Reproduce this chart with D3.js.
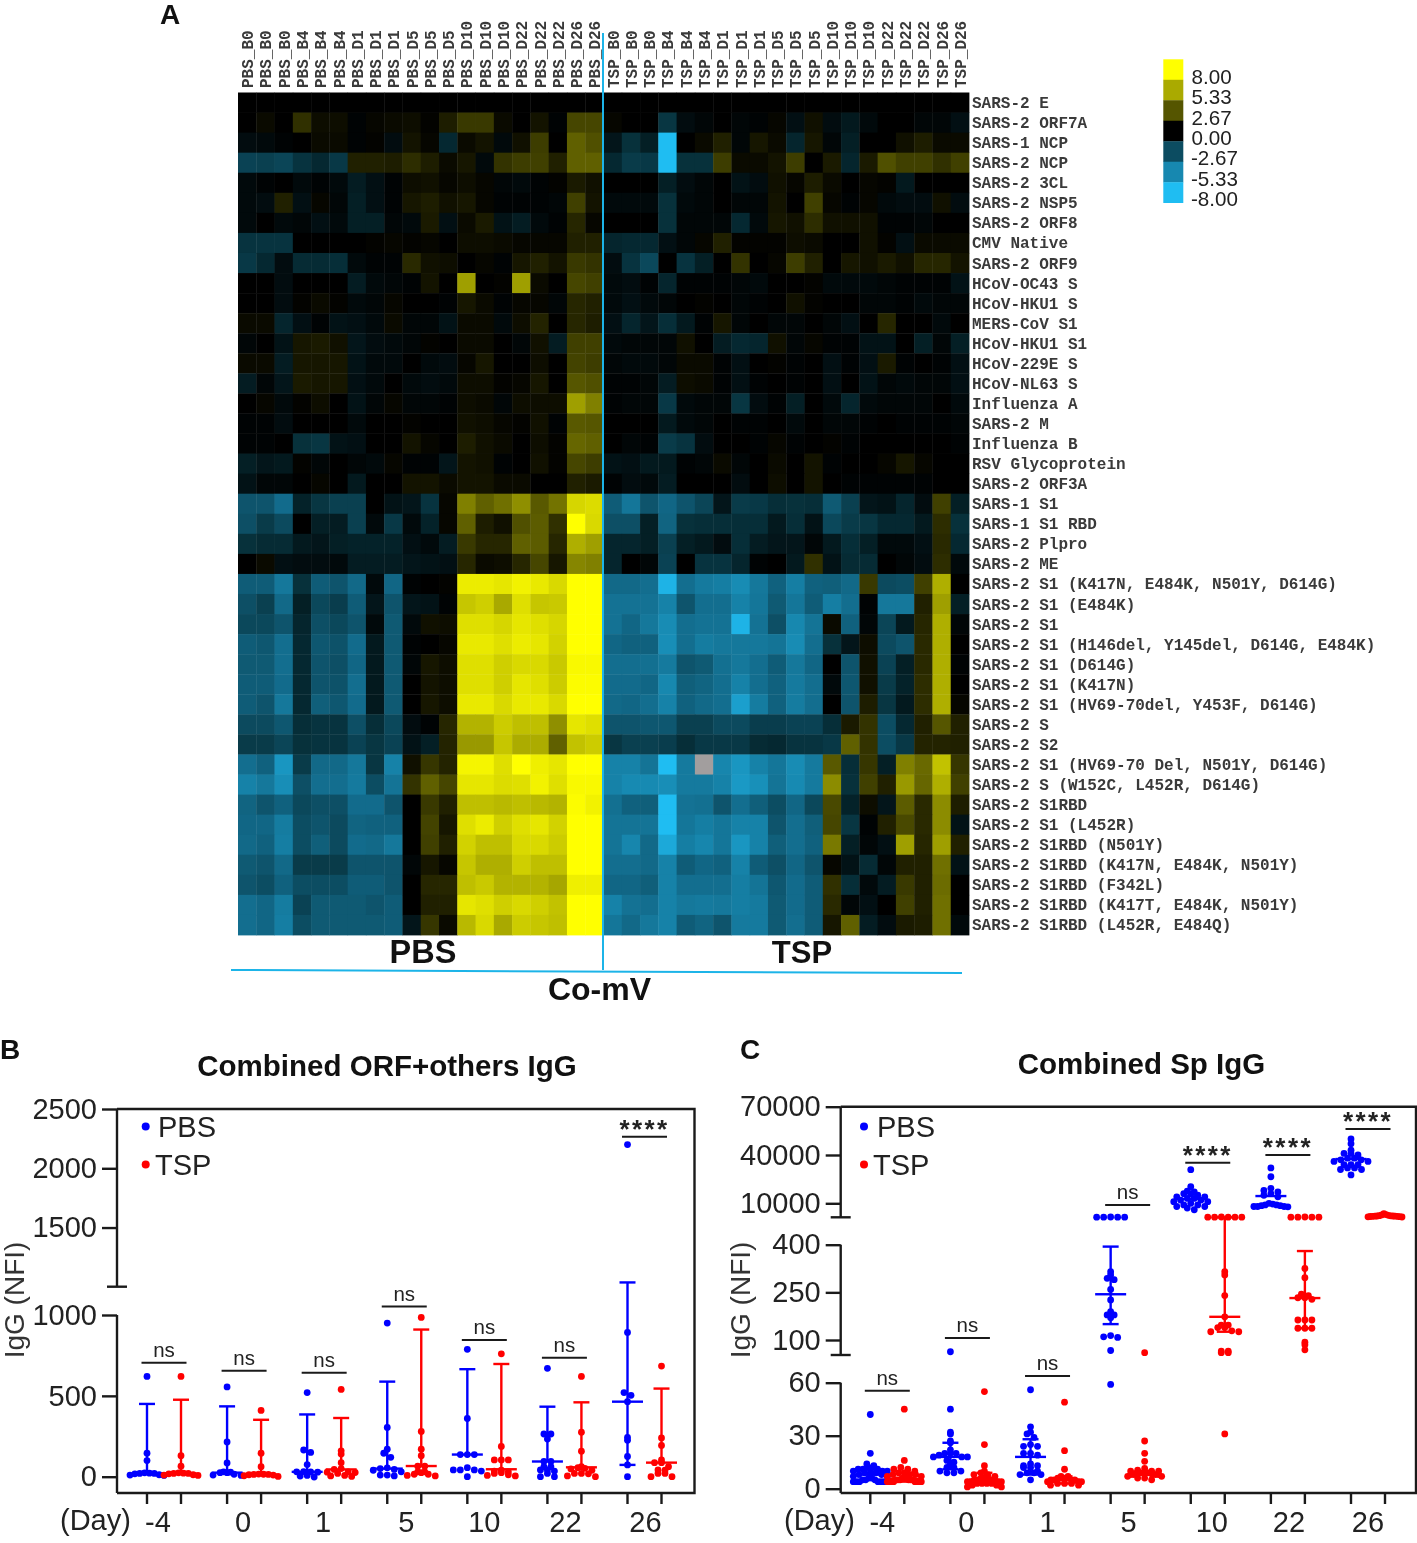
<!DOCTYPE html>
<html><head><meta charset="utf-8">
<script src="https://cdn.jsdelivr.net/npm/d3@7"></script>
<style>html,body{margin:0;padding:0;background:#fff}svg{display:block;filter:blur(.45px)}text{fill:#222}</style>
</head><body><svg id="fig" width="1417" height="1543"></svg>
<script>
const heatRowLabels=["SARS-2 E","SARS-2 ORF7A","SARS-1 NCP","SARS-2 NCP","SARS-2 3CL","SARS-2 NSP5","SARS-2 ORF8","CMV Native","SARS-2 ORF9","HCoV-OC43 S","HCoV-HKU1 S","MERS-CoV S1","HCoV-HKU1 S1","HCoV-229E S","HCoV-NL63 S","Influenza A","SARS-2 M","Influenza B","RSV Glycoprotein","SARS-2 ORF3A","SARS-1 S1","SARS-1 S1 RBD","SARS-2 Plpro","SARS-2 ME","SARS-2 S1 (K417N, E484K, N501Y, D614G)","SARS-2 S1 (E484K)","SARS-2 S1","SARS-2 S1 (H146del, Y145del, D614G, E484K)","SARS-2 S1 (D614G)","SARS-2 S1 (K417N)","SARS-2 S1 (HV69-70del, Y453F, D614G)","SARS-2 S","SARS-2 S2","SARS-2 S1 (HV69-70 Del, N501Y, D614G)","SARS-2 S (W152C, L452R, D614G)","SARS-2 S1RBD","SARS-2 S1 (L452R)","SARS-2 S1RBD (N501Y)","SARS-2 S1RBD (K417N, E484K, N501Y)","SARS-2 S1RBD (F342L)","SARS-2 S1RBD (K417T, E484K, N501Y)","SARS-2 S1RBD (L452R, E484Q)"];
const heatTimes=["B0","B0","B0","B4","B4","B4","D1","D1","D1","D5","D5","D5","D10","D10","D10","D22","D22","D22","D26","D26"];
const heatPbs=[
[0,0,0,0,0,0,0,0,0,0,0,0,0,0,0,0,0,0,0,0],
[0,.3,0,1.5,.4,.4,-.1,.2,.3,.4,.1,.9,1.8,1.8,.3,0,.6,-.1,2.2,2.2],
[-.4,-.3,-.1,0,.3,.3,-.1,.1,-.4,.6,.2,-1.3,.3,.6,-.3,.5,1.9,0,3,2.5],
[-2.3,-2.2,-2.4,-1.7,-1.3,-1.9,1,1,.9,1.4,.9,.3,.7,-.3,1.6,1.9,2,1,3,3],
[-.3,-.1,0,-.3,-.1,-.3,-.9,-.5,-.1,.4,.5,.2,.4,.2,-.2,-.3,-.1,.1,.8,.5],
[-.3,-.4,1,-.5,.2,-.2,-1,-.5,-.1,.7,.9,.5,.7,.2,-.1,-.1,-.1,-.2,2,.6],
[-.3,0,-.3,-.2,-.5,-.3,-1,-1,-.2,-.3,.8,-.5,.3,.8,-.6,-.9,-.3,-.1,1.2,.2],
[-1.7,-1.7,-1.7,0,0,0,0,.1,.2,.1,.2,0,.4,.4,.3,.2,.2,.2,1,1],
[-1.9,-1.3,-.4,-1.4,-1.4,-1.5,-.3,-.1,-.1,1.3,.5,.4,0,.2,-.1,.7,1,.6,1.8,1.6],
[0,0,-.4,0,0,0,-.9,-.3,-.2,-.1,.6,0,5,0,.1,5,.3,0,2.2,2],
[0,0,-.4,.1,.3,.1,-.3,-.2,.2,0,0,-.1,.7,.3,-.1,.2,.2,-.2,1.2,1],
[.3,.3,-1.2,-.5,-.1,-.6,-.5,-.3,.3,-.2,-.2,-.6,.3,.3,-.3,.4,1.1,0,1.2,.9],
[-.2,0,-.6,.7,.8,.5,-.7,-.4,-.3,-.2,.1,0,.3,.3,0,-.2,.5,-.9,2,2],
[.3,.3,-.9,.7,.7,.7,-.6,-.3,-.3,0,-.3,-.4,.2,.7,0,0,.4,0,2.1,1.9],
[-.9,-.2,-.7,.8,.7,.7,-.5,-.3,0,-.3,-.4,-.3,.4,.4,.1,.2,.7,0,2.7,2.5],
[0,.2,-.3,.1,.4,0,-.6,-.2,.2,-.2,-.2,-.1,.4,.3,-.2,.4,.4,.4,5,4],
[-.1,-.1,-.4,0,0,0,-.3,0,0,.1,0,0,.5,.4,.2,.1,.5,-.1,2.8,2.7],
[-.1,-.1,0,-1.6,-1.8,-.6,-.5,0,0,.6,.2,0,.9,.5,.3,0,.4,.1,3.2,3],
[-1,-.7,-.8,.1,-.2,0,-.2,-.3,.2,-.1,-.1,-.7,.6,.5,-.1,0,.5,.1,2.2,1.9],
[-.6,-.2,-.2,0,.2,0,-.8,0,0,.6,.6,.3,.6,.6,.3,.3,0,0,1,.8],
[-3,-3,-3.9,-1.1,-1.8,-2.2,-2.2,0,-.6,-.7,-1.7,.2,4,3,3.5,4.5,2.8,3.6,6.7,6.9],
[-2.8,-2,-2.6,0,-1,-.9,-2.2,-.3,-1.9,-.3,-1.1,.2,3,.9,.5,2.5,2.9,1.5,8,6.8],
[-1.6,-1.4,-1.4,-.8,-.7,-1,-1.1,-1.1,-1.1,-.5,-.3,-.9,1.8,1.2,1.2,3,2.9,1.2,5.5,5],
[0,.3,-.5,-.4,-.4,-.3,-.9,-.9,-.9,-.7,-.6,-.5,1.2,.3,.4,1.2,2.2,.7,4.2,4],
[-3.3,-3.3,-4.5,-1.6,-3.3,-3,-3.8,-.3,-3.7,-.1,0,.1,7.4,7.4,7.2,7.6,7.3,6.8,8,8],
[-2.8,-2.2,-3.8,-1,-2.5,-2.1,-3.3,-.7,-3,-.7,-.6,-.1,6.2,6.5,5.3,7,6.2,6.3,8,8],
[-2.5,-2.5,-3,-1.2,-2.8,-2.5,-3,-.3,-3.2,-.3,.5,.4,7,7,6.7,7.2,7,6.7,8,8],
[-3.3,-3.1,-4,-1.3,-3.1,-2.9,-3.9,-.8,-3.2,-.1,0,.2,7.3,7.3,7,7.4,7.2,6.6,8,8],
[-3.2,-3.2,-4,-1.3,-3,-2.8,-3.7,-.8,-3.2,-.2,.7,.4,7,7,6.5,6.8,6.8,6.3,7.8,7.8],
[-3.3,-3.3,-3.9,-1.3,-3,-2.9,-4,-.8,-3.2,0,.6,.4,7,7,6.5,7.2,7,6.4,7.9,7.9],
[-3.3,-3,-4.5,-1.3,-3.4,-3.1,-3.9,-.8,-3.2,0,.7,.4,7.3,7.3,6.8,7.3,7.3,6.8,8,8],
[-2.6,-2.6,-3.1,-1.5,-1.7,-1.7,-2.8,-1.5,-2.5,-.4,-.1,1.2,5.6,5.6,6.4,6,6,4.5,7.2,7],
[-2,-2,-2.4,-1.6,-1.7,-1.7,-2.3,-1.8,-2.3,-.6,-1,1.1,4.8,4.8,6.2,5.4,5.4,3,6.1,6.4],
[-4,-3.5,-6,-2,-3.8,-3.8,-4.5,-1.8,-5,.5,1.7,1.1,7.7,7.7,7,8,7.5,7.2,8,8],
[-5,-4.5,-5.6,-2.8,-4,-4,-4.6,-2.7,-4.3,1.6,3,2.2,7.2,7.2,6.9,7,7.6,7,7.8,7.8],
[-3.6,-3,-3.5,-2.5,-2.8,-2.8,-3.9,-3.9,-3,0,1.8,1,6,6,5.8,6,5.8,5.6,7.9,7.6],
[-3.7,-3.7,-4.7,-2.7,-3,-2.6,-3.6,-3.5,-3.5,0,2.1,.7,7,7.4,6.5,7,7.2,6.6,8,8],
[-3.8,-3.5,-4.8,-2.7,-3.4,-2.6,-3.9,-3.8,-4.5,0,2,1,6.6,6,6,6.8,6.8,6.4,8,8],
[-3.2,-3,-3.8,-2,-2,-2,-3,-3,-3,-.2,.7,.2,6.2,5.5,5.5,6.5,6,6,8,8],
[-3,-2.7,-3.5,-2.7,-2.7,-2.7,-3.3,-3.3,-3,0,1.2,1.2,6,6.3,5.6,5.6,5.6,5.2,7.5,7.5],
[-4,-3.7,-4.7,-2.3,-3.2,-3.2,-3.2,-3,-3.3,0,1,1,7.2,7,6.5,6.8,6.5,6.1,8,8],
[-4,-3.7,-4.8,-2.7,-3.2,-3.2,-3.2,-3.2,-3.3,-.7,1.7,.3,5.8,6.8,5.3,6.4,6.2,6,8,8]];
const heatTsp=[
[0,0,0,0,0,0,0,0,0,0,0,0,0,0,0,0,0,0,0,0],
[.2,0,0,-1.8,-.4,-.2,0,-.2,-.1,.2,-.5,.5,-.4,-.8,-.3,0,0,-.2,-.2,-.5],
[-.7,-1.6,-1,-8,0,.3,1,-.2,.7,.3,-1.2,.7,-.2,-1,0,0,.5,.9,.3,.3],
[-1.3,-2,-1.9,-8,-1.6,-1.6,1.9,.3,.3,.6,1.9,0,.8,-1.2,.8,2.5,2,2,1.5,2],
[0,0,0,-1,-.4,-.2,0,-.6,-.4,.5,.2,.9,.3,0,.2,.1,-.8,0,0,0],
[-.3,-.3,-.3,-1.6,-.3,-.2,0,-.2,-.2,.6,0,2,.2,-.1,.2,-.3,-.4,-.4,.5,-.4],
[0,0,0,-1.6,-.2,-.2,-.2,-1.3,-.3,.7,.5,1.4,.5,.5,.5,-.1,-.1,-.2,0,0],
[-1.2,-1.3,-1.3,-.5,-.2,.2,1,.1,.1,.1,.4,.3,0,0,.5,.1,-.5,.3,.3,.3],
[-.4,-1.7,-2.5,0,-1.7,-1,0,1.6,0,.2,1.9,1,0,.7,.5,.8,.5,1.2,1.2,.6],
[-.3,-.4,-.1,-1.2,-.1,-.1,-.1,-.2,-.3,0,0,.1,-.3,-.3,-.3,-.2,-.1,-.1,-.1,-.6],
[-.3,-.5,-.3,-.2,0,.1,0,-.2,-.1,0,.5,.1,0,0,-.2,-.2,-.1,-.3,-.2,-.2],
[-.5,-1.2,-.7,-1.5,-.8,-.1,.7,-.2,0,-.2,-.2,0,-.2,-.5,0,1.2,0,0,-.3,0],
[-.3,-.2,-.2,-.2,.5,0,-.9,-1.3,-1.2,.5,-.2,.2,-.1,-.1,-.6,-.6,0,-1,-.2,-1],
[-.2,-.3,-.3,-.2,.3,.3,-.1,-.5,0,.1,-.1,0,-.5,-.1,-.5,.8,-.1,0,-.1,-.5],
[-.1,-.1,-.2,-.9,.4,.3,-.1,-.5,-.1,0,-.1,0,-.5,0,-.6,-.2,-.3,-.2,-.2,-.5],
[-.1,-.2,-.2,-1.9,-.3,-.2,-.2,-1.8,-.4,-.1,-1,0,-.3,-1.2,-.3,-.2,-.2,-.2,0,-.3],
[0,0,0,-.8,-.3,-.2,0,-.1,-.1,0,-.3,0,-.2,-.2,-.1,0,-.1,-.1,-.1,-.2],
[0,-.2,-.1,-2,-1.7,-.4,0,0,-.1,.2,-.1,0,.1,-.1,0,0,0,0,0,-.1],
[-.6,-.5,-.8,-.8,-.1,-.2,.3,-.2,0,.3,0,.6,-.1,0,0,.2,.7,.2,0,0],
[-.1,-.4,-.3,-.9,0,0,0,-.4,0,.4,0,.6,0,-.1,-.1,-.1,-.1,-.1,0,0],
[-3.3,-4.4,-3,-3.7,-3,-2.4,-.7,-2,-1.9,-1.5,-1.6,-1.5,-3.2,-2.2,-.7,-.6,-1.2,-.4,2,-1],
[-2.8,-2.8,-1,-3.6,-1.6,-1.5,-1.5,-1.5,-1.5,-.8,-1.5,-.6,-2.5,-2,-1.8,-1.3,-1.3,-.8,1.4,-1.6],
[-1.2,-1.2,-1,-2.2,-1,-.8,-.4,-1.5,-.9,-.7,-.7,-.2,-.8,-1.5,-1,-.3,-.3,-.5,1.3,-1.3],
[-1.2,0,-.2,-2.3,0,-1.7,-1.7,-1.2,-.1,0,-.8,1.5,-.6,-1.4,-1.4,0,-.2,-.4,1.4,-.3],
[-3.8,-3.8,-4,-7.5,-4,-4.6,-4.8,-5.5,-4.5,-3.5,-4.8,-3.5,-3.4,-3.8,1.8,-2.6,-2.7,2,5.5,0],
[-4.2,-4.2,-4.2,-5,-3,-4,-4,-5,-4.4,-3.2,-4.4,-3.3,-4.8,-4,-.1,-4.5,-4.5,1,5,-1],
[-4.2,-3.7,-4.5,-5.5,-4,-4.2,-4.2,-7.5,-4.2,-2.8,-5.3,-4.3,.3,-3.5,-.2,-2.4,-.8,1.2,5.5,-.2],
[-3.7,-3.5,-3.5,-5.6,-4,-4.7,-4.5,-4.5,-4.5,-4.3,-5.5,-4,-1.6,-.7,.4,-2.6,-3,1.3,5.5,0],
[-4,-4,-4.1,-4.6,-3,-3.2,-4.1,-4.5,-4,-3.3,-4.5,-3.7,0,-3,.5,-2.3,-1,1.3,5.5,-.1],
[-3.9,-3.9,-3.7,-5.3,-3.4,-3.6,-4,-5,-4,-3.5,-4.6,-4,-.3,-3.1,.5,-2,-1.1,1.4,5.5,0],
[-3.8,-3.7,-4,-5,-3.5,-3.8,-4,-6.5,-4.7,-3.5,-4.7,-4,0,-3,.9,-1.8,-.8,1.4,5.5,.2],
[-3,-3,-3.1,-3.1,-2.2,-2.2,-2.6,-2.6,-2.1,-2.1,-2.3,-2.3,-1.5,.8,1.6,-2.7,-1.3,1,2.7,1],
[-1.8,-2.2,-2.2,-2.1,-1.5,-1.9,-1.9,-1.9,-1.4,-1.3,-1.7,-1.7,-1.9,3,1.6,-2.7,-1.9,1.1,1.1,1],
[-5,-5,-4.3,-8,-4.6,null,-5.2,-6,-5,-4.4,-5.5,-4.6,2.8,-1.5,1.7,-1,4,3.3,6.1,1.7],
[-5,-5.4,-5.4,-5.6,-4.6,-4.6,-5,-6.2,-5.7,-4.3,-5.4,-4.6,4.4,-1.6,2,1,4.8,3.2,5.5,2],
[-4.1,-3.5,-3.4,-8,-4.2,-4.1,-3,-4,-3.4,-2.7,-3.7,-2.5,2.3,-1.1,.4,-.7,2.9,1.3,4.4,.9],
[-4.3,-4.3,-4.3,-8,-4.4,-4.8,-4.4,-5,-5,-3,-4,-3.4,2.2,-1.8,-.1,1,2.3,1.3,4.4,-.6],
[-4.3,-5.2,-3.8,-7,-4.8,-5.2,-4.4,-6,-5,-3.4,-4,-3.5,3.8,-1,-.2,-.5,5,1.2,5,1],
[-4,-4,-3.8,-5,-3.3,-3.7,-3.5,-5,-3.3,-2.8,-3.7,-3,.2,-.6,-1.4,-.2,1,1,3.5,-.6],
[-3.7,-3.7,-3.4,-5,-4,-4,-4,-4.8,-4.3,-3.1,-3.9,-3.3,1.5,-1.5,-.3,-.9,1.8,1,3.4,0],
[-5,-4.2,-4,-5,-4.5,-4.6,-4.5,-4.8,-4.6,-3.2,-3.9,-3.3,1.3,-.2,-.5,0,2,1,3.5,0],
[-4.4,-3.8,-4.5,-5,-3.3,-3.6,-3,-4.6,-4.6,-3.2,-4,-3.3,.7,3,-.9,-.4,.8,.9,3.5,-.3]];
const legendValues=[8,5.33,2.67,0,-2.67,-5.33,-8];
const days=["-4","0","1","5","10","22","26"];

const bTicks=[0,500,1000,1500,2000,2500];
const bPbsPoints=[
[620,145,100,24,22,20,20,18,12,10,8],
[555,215,85,30,28,25,25,15,10,8],
[520,165,150,75,32,30,30,28,8,4,-2],
[950,305,170,145,120,55,50,45,40,30,10,10,5],
[788,360,137,137,137,56,42,42,42,35,0],
[670,264,264,233,94,94,62,62,42,42,35,20,0,0],
[2200,892,520,503,464,243,225,125,73,0]];
const bPbsMedian=[18,25,30,50,137,94,464];
const bPbsHigh=[450,435,385,588,665,433,1037];
const bPbsLow=[null,null,null,null,null,null,73];
const bTspPoints=[
[620,130,65,24,22,20,20,18,12,10,8],
[410,145,62,16,15,14,14,12,10,6,2],
[540,160,140,87,50,45,30,28,26,20,8,5,2],
[985,280,170,130,65,65,30,30,25,15,15,8,5],
[760,187,104,104,104,40,35,30,25,20,12,8,5],
[620,275,158,62,56,52,48,40,20,20,18,5,0],
[684,240,193,104,87,87,62,42,40,20,20,0,0]];
const bTspMedian=[20,15,45,66,46,58,87];
const bTspHigh=[476,352,363,910,697,460,545];
const bBrackets=[705,655,643,1000.3,845,735,2266];
const bLabels=["ns","ns","ns","ns","ns","ns","****"];

const cTicks=[0,30,60,100,250,400,10000,40000,70000];
const cPbsPoints=[
[42,20,14,13,12,12,11,11,11,10,10,10,9,9,9,8,8,7,7,6,6,5,5,5,4,4,4,4,4,4,4],
[63,45,32,31,27,26,22,20,20,20,19,18,18,18,16,15,14,12,12,10,10,9,9],
[56,35,32,31,29,25,24,24,20,20,19,14,13,13,12,12,10,9,9,8,8,5],
[1500,1400,1400,1400,1400,315,305,294,290,259,226,189,179,179,170,114,110,108,67,59],
[30900,20300,17500,17000,16000,16000,15000,14000,14000,13000,13000,12000,12000,11000,11000,10000,9000,9000,8000,8000,7000,6000],
[32000,26500,19300,18000,17000,16000,15000,14000,10000,9500,9000,9000,8500,8500,8000,8000,8000,7800],
[50000,47000,43000,41000,41000,40000,38000,38000,37000,37000,36000,36000,34000,34000,34000,32000,32000,31000,31000,27600]];
const cPbsMedian=[8,18,18,244,12700,14500,37500];
const cPbsHigh=[11,26,28,394,null,null,null];
const cPbsLow=[5,11,8,150,null,null,null];
const cTspPoints=[
[45,16,12,11,11,10,9,9,8,8,8,7,7,6,6,6,5,5,5,5,5,5,4,4,4,4,4,4,4,4],
[55,25,13,10,9,8,8,7,6,6,6,5,5,5,5,4,4,4,4,3,3,3,3,2,2,1,1],
[49,21.5,11,7,7,6,6,6,6,5,5,5,5,4,4,4,3,3,3,2,2],
[60.01,27,20,15.5,11.5,10.5,10,10,10,9,9,9,9,9,8,8,8,8,8,7,7,6,6,5],
[1500,1400,1400,1400,1400,1400,315,305,240,173,147,139,147,139,129,126,126,65,60.01,60.01,65,31],
[1500,1400,1400,1400,1400,325,296,244,240,233,233,228,163,163,163,137,137,137,93,85,69],
[3500,3000,2800,2500,2300,2200,2100,2100,2000,2000,1900,1900,1800,1700,1600,1500]];
const cTspMedian=[5.5,5,5,9,173,232,2100];
const cTspHigh=[9,9,7,null,1300,380,null];
const cTspLow=[4,3,3,null,126,137,null];
const cBrackets=[55.5,106,60.0022,8940,35200,40000,56100];
const cLabels=["ns","ns","ns","ns","****","****","****"];

const FONT="'Liberation Sans',Arial,sans-serif";
const svg=d3.select("#fig");
const blue="#0000ff",red="#ff0000",cyan="#1cb4e8";

// ---- heatmap
const color=d3.scaleLinear().domain([-8,-4,-1.5,0,8]).range(["#1fbdf2","#136e8f","#062e38","#000000","#ffff00"]);
const colLabels=[...heatTimes.map(t=>"PBS_"+t),...heatTimes.map(t=>"TSP_"+t)];
const colIds=d3.range(40);
const hx=d3.scaleBand().domain(colIds).range([238,969]);
const hy=d3.scaleBand().domain(heatRowLabels.map((d,i)=>i)).range([92.5,935]);
const cells=[];
heatRowLabels.forEach((_,r)=>{heatPbs[r].forEach((v,c)=>cells.push({r,c,v}));heatTsp[r].forEach((v,c)=>cells.push({r,c:c+20,v}));});
const hg=svg.append("g");
hg.selectAll("rect").data(cells).join("rect")
 .attr("x",d=>hx(d.c)).attr("y",d=>hy(d.r)).attr("width",hx.bandwidth()+.4).attr("height",hy.bandwidth()+.4)
 .attr("fill",d=>d.v===null?"#a29e9e":color(d.v));
const mono="'Liberation Mono','Courier New',monospace";
svg.append("g").selectAll("text").data(heatRowLabels).join("text")
 .attr("x",972).attr("y",(d,i)=>hy(i)+hy.bandwidth()/2+5.5)
 .attr("font-family",mono).attr("font-size",16).attr("font-weight",700).style("fill","#3a3a3a").text(d=>d);
svg.append("g").selectAll("text").data(colLabels).join("text")
 .attr("transform",(d,i)=>`translate(${hx(i)+hx.bandwidth()/2+6},88) rotate(-90)`)
 .attr("font-family",mono).attr("font-size",16).attr("font-weight",700).style("fill","#3a3a3a").text(d=>d);
// colour legend
const ly=d3.scaleBand().domain(legendValues).range([59.3,202.7]);
svg.append("g").selectAll("rect").data(legendValues).join("rect")
 .attr("x",1163.3).attr("width",20).attr("y",d=>ly(d)).attr("height",ly.bandwidth()+.3).attr("fill",d=>color(d));
svg.append("g").selectAll("text").data(legendValues).join("text")
 .attr("x",d=>d<0?1191:1191.5).attr("y",d=>ly(d)+ly.bandwidth()/2+14)
 .attr("font-family",FONT).attr("font-size",20.6).text(d=>d.toFixed(2));
// heat annotation
svg.append("line").attr("x1",603).attr("x2",603).attr("y1",33).attr("y2",970).attr("stroke",cyan).attr("stroke-width",2);
svg.append("line").attr("x1",231).attr("x2",962).attr("y1",970).attr("y2",973).attr("stroke",cyan).attr("stroke-width",2);
const big=(t,x,y,fs,anchor="middle")=>svg.append("text").attr("x",x).attr("y",y).attr("text-anchor",anchor)
 .attr("font-family",FONT).attr("font-weight",700).attr("font-size",fs).style("fill","#111").text(t);
big("PBS",423,963,32.5);big("TSP",802,963,31);big("Co-mV",599.5,1000,32);
big("A",170,24,28);big("B",10,1059,28);big("C",750,1059,28);

// ---- dot panels
function panel(o){
 const g=svg.append("g").attr("font-family",FONT);
 const y=d3.scaleLinear().domain(o.dom).range(o.rng);
 const xc=d3.scalePoint().domain(days).range(o.xr);
 const K="#1a1a1a";
 g.append("path").attr("fill","none").attr("stroke",K).attr("stroke-width",2.4)
  .attr("d",`M${o.L},${o.top}H${o.R}V${o.bot}H${o.L}`);
 o.segs.forEach(s=>{
  g.append("path").attr("fill","none").attr("stroke",K).attr("stroke-width",2.4)
   .attr("d",`M${o.L},${s[0]}V${s[1]}`);
 });
 o.caps.forEach(c=>g.append("line").attr("x1",o.L-10).attr("x2",o.L+10).attr("y1",c).attr("y2",c).attr("stroke",K).attr("stroke-width",2.4));
 const ya=g.append("g").attr("transform",`translate(${o.L},0)`).call(d3.axisLeft(y).tickValues(o.ticks).tickSize(15).tickPadding(5).tickFormat(d=>d));
 ya.select(".domain").remove();
 ya.selectAll("line").attr("stroke",K).attr("stroke-width",2.4);
 ya.selectAll("text").attr("font-size",o.fs).attr("font-family",FONT).style("fill","#222");
 const xs=[];
 days.forEach(d=>{xs.push(xc(d)-17,xc(d)+17);});
 g.selectAll("line.xt").data(xs).join("line").attr("class","xt").attr("x1",d=>d).attr("x2",d=>d).attr("y1",o.bot).attr("y2",o.bot+11).attr("stroke",K).attr("stroke-width",2.4);
 g.selectAll("text.xl").data(days).join("text").attr("class","xl").attr("x",(d,i)=>xc(d)+o.xlOffs[i]).attr("y",o.bot+39).attr("text-anchor","middle").attr("font-size",o.fs).text(d=>d);
 g.append("text").attr("x",o.dayX).attr("y",o.bot+37).attr("font-size",o.fs).text("(Day)");
 g.append("text").attr("transform",`translate(${o.ylx},1300) rotate(-90)`).attr("text-anchor","middle").attr("font-size",28).style("fill","#333").text("IgG (NFI)");
 g.append("text").attr("x",o.titleX).attr("y",o.titleY).attr("text-anchor","middle").attr("font-weight",700).attr("font-size",o.titleFs).style("fill","#111").text(o.title);
 [["PBS",blue,o.leg[0],1126.5,o.leg[1]],["TSP",red,o.leg[0],1164.5,o.leg[2]]].forEach(l=>{
  g.append("circle").attr("cx",l[2]).attr("cy",l[3]).attr("r",4).attr("fill",l[1]);
  g.append("text").attr("x",l[4]).attr("y",l[3]+10.5).attr("font-size",o.fs).text(l[0]);
 });
 function series(pts,med,hi,lo,col,dx){
  const s=g.append("g").attr("fill",col).attr("stroke",col);
  days.forEach((d,i)=>{
   const cx=xc(d)+dx,ln=(x1,x2,y1,y2,w=2.4)=>s.append("line").attr("x1",x1).attr("x2",x2).attr("y1",y1).attr("y2",y2).attr("stroke-width",w);
   const yh=hi[i]===null?null:y(hi[i]),yl=(lo&&lo[i]!==null)?y(lo[i]):null,ym=y(med[i]);
   if(yh!==null){ln(cx,cx,yh,yl===null?ym:yl);ln(cx-8,cx+8,yh,yh);}
   if(yl!==null)ln(cx-8,cx+8,yl,yl);
   ln(cx-15.5,cx+15.5,ym,ym);
   const bins=d3.group(pts[i],v=>Math.round(y(v)/o.bin));
   bins.forEach(arr=>{
    const n=arr.length,step=Math.min(o.gap,34/Math.max(n-1,1));
    const slots=d3.range(n).map(k=>(k-(n-1)/2)*step).sort((a,b)=>Math.abs(a)-Math.abs(b));
    arr.slice().sort((a,b)=>b-a).forEach((v,k)=>{
     s.append("circle").attr("cx",cx+slots[k]).attr("cy",y(v)).attr("r",o.r).attr("stroke","none");
    });
   });
  });
 }
 series(o.pbs,o.pbsMed,o.pbsHi,o.pbsLo,blue,-17);
 series(o.tsp,o.tspMed,o.tspHi,o.tspLo,red,17);
 days.forEach((d,i)=>{
  const yy=y(o.br[i]),cx=xc(d);
  g.append("line").attr("x1",cx-22.5).attr("x2",cx+22.5).attr("y1",yy).attr("y2",yy).attr("stroke",K).attr("stroke-width",2);
  const star=o.brl[i]!=="ns";
  g.append("text").attr("x",cx).attr("y",star?yy+1:yy-6).attr("text-anchor","middle").attr("font-size",star?26:20.5)
   .attr("font-weight",star?700:400).attr("letter-spacing",star?"2.4px":"0").text(o.brl[i]);
 });
}
panel({title:"Combined ORF+others IgG",titleX:387,titleY:1076,titleFs:29.5,L:117,R:694.5,top:1109,bot:1493,
 dom:[0,1000,1001,2500],rng:[1476.7,1315,1286.7,1109],xr:[164,644.5],ticks:bTicks,segs:[[1109,1286.7],[1315,1493]],caps:[1286.7],
 fs:29,dayX:60,ylx:24,leg:[145.7,158,155],bin:5,gap:7,r:3.4,xlOffs:[-6,-1,-1,2,0,1,1],
 pbs:bPbsPoints,pbsMed:bPbsMedian,pbsHi:bPbsHigh,pbsLo:bPbsLow,tsp:bTspPoints,tspMed:bTspMedian,tspHi:bTspHigh,tspLo:null,br:bBrackets,brl:bLabels});
panel({title:"Combined Sp IgG",titleX:1141.5,titleY:1074,titleFs:29.5,L:840.7,R:1416,top:1106.7,bot:1493,
 dom:[0,60,60.01,400,1300,70000],rng:[1488.7,1382.7,1352.7,1244.7,1217.3,1106.7],xr:[887.3,1368],ticks:cTicks,segs:[[1106.7,1217.3],[1244.7,1355],[1382.7,1493]],caps:[1217.3,1355],
 fs:29,dayX:784,ylx:750,leg:[864,877,873],bin:5,gap:7,r:3.4,xlOffs:[-5,-1,0,1,4,1,0],
 pbs:cPbsPoints,pbsMed:cPbsMedian,pbsHi:cPbsHigh,pbsLo:cPbsLow,tsp:cTspPoints,tspMed:cTspMedian,tspHi:cTspHigh,tspLo:cTspLow,br:cBrackets,brl:cLabels});
</script></body></html>
